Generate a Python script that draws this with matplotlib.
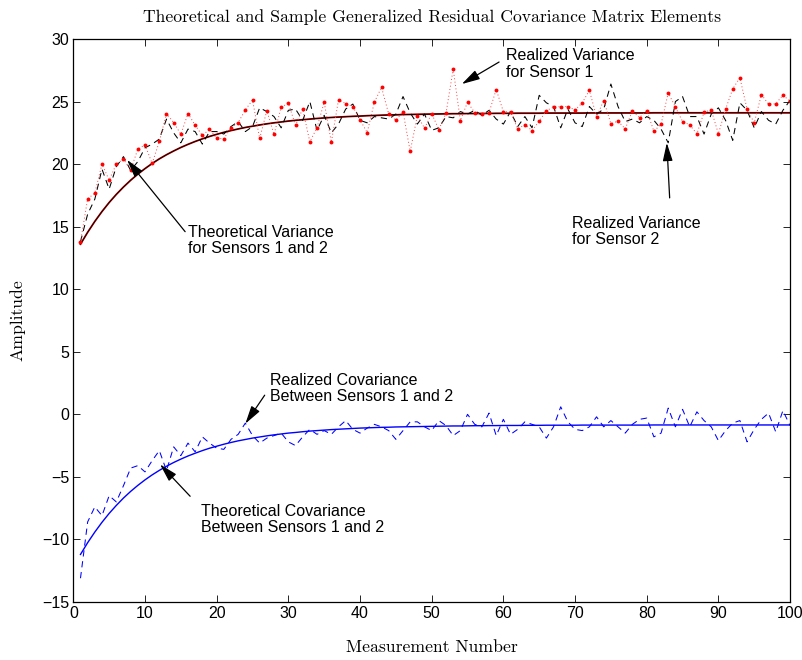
import matplotlib
matplotlib.use("Agg")
import matplotlib.pyplot as plt
import numpy as np

measurement = list(range(1, 101))

realized_var_sensor1 = [
    13.77, 17.23, 17.68, 20.00, 18.72, 20.00, 20.40, 19.52, 21.20, 21.54,
    20.05, 21.81, 24.04, 23.32, 22.39, 24.04, 23.11, 22.29, 22.79, 22.07,
    22.02, 22.92, 23.32, 24.33, 25.13, 22.05, 24.28, 22.37, 24.55, 24.87,
    23.11, 24.41, 21.78, 22.92, 24.95, 21.75, 25.13, 24.84, 24.60, 23.54,
    22.52, 24.95, 26.14, 24.01, 23.51, 24.20, 21.01, 23.88, 22.87, 24.04,
    22.76, 24.07, 27.60, 23.48, 24.95, 24.12, 23.99, 24.12, 25.96, 24.20,
    24.17, 22.82, 23.16, 22.68, 23.43, 24.28, 24.55, 24.60, 24.60, 24.33,
    24.89, 25.90, 23.78, 25.08, 23.24, 23.43, 22.82, 24.25, 23.72, 24.28,
    22.63, 23.19, 25.69, 24.57, 23.40, 23.14, 22.42, 24.15, 24.33, 22.42,
    24.39, 26.01, 26.91, 24.39, 23.30, 25.56, 24.79, 24.82, 25.51, 25.03,
]

realized_var_sensor2 = [
    13.80, 16.00, 17.20, 19.60, 18.00, 19.80, 20.60, 19.50, 20.20, 21.30,
    21.60, 22.00, 23.60, 22.50, 21.70, 22.80, 22.60, 21.60, 22.60, 22.60,
    22.40, 23.00, 23.40, 22.60, 23.00, 24.50, 24.20, 23.80, 22.90, 24.30,
    24.40, 23.50, 25.00, 22.70, 23.90, 22.50, 23.20, 24.40, 24.80, 23.50,
    23.30, 23.80, 23.70, 23.60, 24.00, 25.40, 24.10, 23.20, 24.00, 22.70,
    22.90, 23.80, 23.70, 24.20, 24.00, 24.30, 23.90, 24.30, 23.60, 23.20,
    24.20, 23.00, 23.80, 22.90, 25.50, 24.90, 24.60, 22.90, 24.40, 23.30,
    23.00, 24.60, 24.00, 24.40, 26.40, 24.60, 23.40, 23.60, 23.30, 23.80,
    23.50, 22.80, 21.70, 25.00, 25.40, 23.80, 23.80, 22.40, 24.00, 24.50,
    23.50, 21.90, 24.90, 24.30, 22.90, 24.20, 23.50, 23.20, 24.30, 25.10,
]

theoretical_var = [
    13.60, 14.55, 15.42, 16.21, 16.93, 17.58, 18.17, 18.71, 19.20, 19.64,
    20.05, 20.42, 20.75, 21.05, 21.33, 21.58, 21.81, 22.02, 22.21, 22.38,
    22.54, 22.68, 22.81, 22.93, 23.03, 23.13, 23.22, 23.30, 23.37, 23.44,
    23.50, 23.55, 23.60, 23.65, 23.69, 23.73, 23.76, 23.79, 23.82, 23.84,
    23.87, 23.89, 23.91, 23.93, 23.94, 23.96, 23.97, 23.98, 23.99, 24.00,
    24.01, 24.02, 24.03, 24.03, 24.04, 24.04, 24.05, 24.05, 24.06, 24.06,
    24.06, 24.07, 24.07, 24.07, 24.07, 24.08, 24.08, 24.08, 24.08, 24.08,
    24.08, 24.09, 24.09, 24.09, 24.09, 24.09, 24.09, 24.09, 24.09, 24.09,
    24.10, 24.10, 24.10, 24.10, 24.10, 24.10, 24.10, 24.10, 24.10, 24.10,
    24.10, 24.10, 24.10, 24.10, 24.10, 24.10, 24.10, 24.10, 24.10, 24.10,
]

realized_cov = [
    -13.10, -8.60, -7.40, -8.10, -6.50, -7.00, -5.70, -4.30, -4.10, -4.60,
    -3.70, -2.90, -4.50, -2.60, -3.30, -2.30, -3.00, -1.80, -2.30, -2.70,
    -2.80, -2.00, -1.60, -0.70, -1.70, -2.30, -1.90, -1.70, -1.50, -2.20,
    -2.50, -1.80, -1.20, -1.60, -1.30, -1.60, -1.00, -0.50, -1.20, -1.50,
    -1.10, -0.80, -1.00, -1.30, -2.00, -1.30, -0.60, -0.60, -1.00, -1.30,
    -0.50, -0.90, -1.70, -1.30, 0.00, -0.80, -1.00, 0.10, -1.70, -0.40,
    -1.60, -1.20, -0.60, -0.80, -1.00, -1.90, -1.00, 0.60, -0.60, -1.20,
    -1.30, -1.00, -0.20, -1.00, -0.50, -1.00, -1.50, -0.80, -0.40, -0.30,
    -1.80, -1.50, 0.50, -1.00, 0.40, -1.00, 0.20, -0.50, -1.00, -2.10,
    -1.30, -0.70, -0.50, -2.20, -1.20, -0.40, 0.10, -1.40, 0.30, -0.90,
]

theoretical_cov = [
    -11.20, -10.26, -9.41, -8.63, -7.92, -7.28, -6.69, -6.16, -5.68, -5.24,
    -4.84, -4.48, -4.15, -3.85, -3.58, -3.33, -3.11, -2.90, -2.71, -2.55,
    -2.39, -2.25, -2.12, -2.01, -1.90, -1.81, -1.72, -1.64, -1.57, -1.50,
    -1.45, -1.39, -1.34, -1.30, -1.26, -1.22, -1.19, -1.16, -1.13, -1.10,
    -1.08, -1.06, -1.04, -1.03, -1.01, -1.00, -0.99, -0.98, -0.97, -0.96,
    -0.95, -0.94, -0.93, -0.93, -0.92, -0.91, -0.91, -0.90, -0.90, -0.89,
    -0.89, -0.89, -0.88, -0.88, -0.88, -0.87, -0.87, -0.87, -0.87, -0.87,
    -0.86, -0.86, -0.86, -0.86, -0.86, -0.86, -0.86, -0.86, -0.86, -0.86,
    -0.85, -0.85, -0.85, -0.85, -0.85, -0.85, -0.85, -0.85, -0.85, -0.85,
    -0.85, -0.85, -0.85, -0.85, -0.85, -0.85, -0.85, -0.85, -0.85, -0.85,
]

x_ticks = [0, 10, 20, 30, 40, 50, 60, 70, 80, 90, 100]
y_ticks = [-15, -10, -5, 0, 5, 10, 15, 20, 25, 30]

title_text = "Theoretical and Sample Generalized Residual Covariance Matrix Elements"
xlabel_text = "Measurement Number"
ylabel_text = "Amplitude"

annotations = [
    ("Realized Variance\nfor Sensor 1", (60.4, 28.0), (59.4, 28.16), (54.2, 26.4)),
    ("Theoretical Variance\nfor Sensors 1 and 2", (16.0, 13.9), (15.6, 14.6), (7.5, 20.34)),
    ("Realized Variance\nfor Sensor 2", (69.6, 14.6), (83.2, 17.3), (82.8, 21.7)),
    ("Realized Covariance\nBetween Sensors 1 and 2", (27.4, 2.08), (26.7, 1.53), (24.0, -0.75)),
    ("Theoretical Covariance\nBetween Sensors 1 and 2", (17.8, -8.38), (16.3, -6.55), (12.1, -4.0)),
]

sans = ["Liberation Sans", "DejaVu Sans"]
serif = ["cmr10", "DejaVu Serif"]
plt.rcParams["axes.unicode_minus"] = True

fig = plt.figure(figsize=(8.03, 6.60), dpi=100)
ax = fig.add_axes([0.0913, 0.0879, 0.8926, 0.8530])

# theoretical variance (both sensors overlap)
ax.plot(measurement, theoretical_var, color="#c00000", lw=1.3)
ax.plot(measurement, theoretical_var, color="black", lw=0.6)

# realized sensor 2 (black dashed)
ax.plot(measurement, realized_var_sensor2, color="black", lw=0.75, dashes=(6, 4.5))
# realized sensor 1 (red dotted with dots)
ax.plot(measurement, realized_var_sensor1, color="#ff4040", lw=0.7, linestyle=(0, (1, 2.5)),
        marker="o", markersize=2.8, markeredgewidth=0, markerfacecolor="red")

# covariance
ax.plot(measurement, theoretical_cov, color="blue", lw=1.0)
ax.plot(measurement, realized_cov, color="blue", lw=0.75, dashes=(6, 4.5))

ax.set_xlim(0, 100)
ax.set_ylim(-15, 30)
ax.set_xticks(x_ticks)
ax.set_yticks(y_ticks)
ax.tick_params(direction="in", length=5, width=0.6, top=True, right=True, labelsize=11.5,
               pad=3)
for lab in ax.get_xticklabels() + ax.get_yticklabels():
    lab.set_family(sans)
for sp in ax.spines.values():
    sp.set_linewidth(0.9)

ax.set_title(title_text, family=serif, fontsize=12.7, pad=12)
ax.set_xlabel(xlabel_text, family=serif, fontsize=12.7, labelpad=13)
ax.set_ylabel(ylabel_text, family=serif, fontsize=12.7, labelpad=12)

for text, tpos, tail, tip in annotations:
    ax.text(tpos[0], tpos[1], text, family=sans, fontsize=11.5, ha="left", va="center",
            linespacing=1.1)
    ax.annotate("", xy=tip, xytext=tail,
                arrowprops=dict(arrowstyle="-|>,head_length=1.1,head_width=0.3",
                                lw=0.9, color="black", mutation_scale=10,
                                shrinkA=0, shrinkB=0))

fig.savefig("out.png", dpi=100)
